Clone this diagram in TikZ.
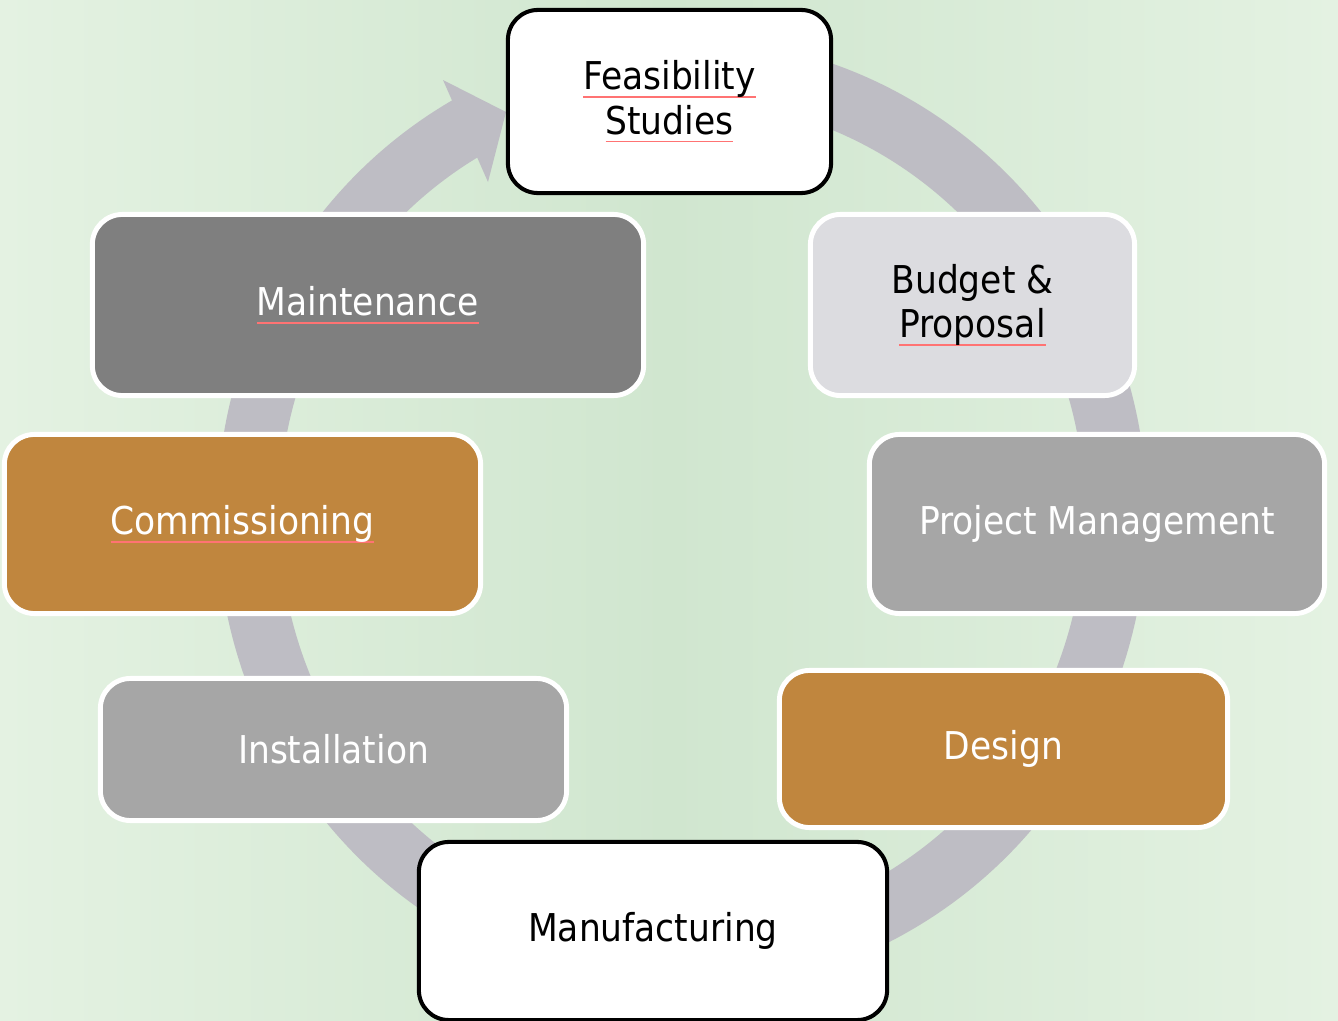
\documentclass[tikz,border=0pt]{standalone}
\usepackage{fontspec}
\setmainfont{DejaVu Sans Condensed}
\usetikzlibrary{positioning}

\definecolor{fondo}{RGB}{208,230,207}
\definecolor{fondoclaro}{RGB}{228,242,226}
\definecolor{anillo}{RGB}{190,189,196}
\definecolor{grisoscuro}{RGB}{127,127,127}
\definecolor{grismedio}{RGB}{166,166,166}
\definecolor{grisclaro}{RGB}{220,220,224}
\definecolor{ocre}{RGB}{192,134,62}

\newlength{\anchomarca}
\newcommand{\marcared}[1]{\settowidth{\anchomarca}{#1}\rlap{\textcolor{red!55}{\rule[-0.4ex]{\anchomarca}{0.5pt}}}#1}

\tikzset{
	caja/.style={rectangle, rounded corners=0.3cm, align=center, inner sep=0pt,
		font=\fontsize{10.9}{12.6}\selectfont},
	cajablanca/.style={caja, fill=white, draw=black, line width=1.15pt, text=black},
	cajacolor/.style={caja, draw=white, line width=1.4pt},
}

\begin{document}
\begin{tikzpicture}[x=0.01cm, y=0.01cm]

		\useasboundingbox (0,0) rectangle (1338,-1021);
		\fill[left color=fondoclaro, right color=fondoclaro, middle color=fondo] (0,0) rectangle (1338,-1021); %Fondo

		\draw[anillo, line width=0.62cm] (682,-515) ++(118:434 and 446) arc[start angle=118, end angle=450, x radius=434, y radius=446]; %Flecha
		\fill[anillo] (443,-80) -- (506,-112) -- (488,-182) -- cycle; %Punta

		\node[cajablanca, minimum width=3.23cm, minimum height=1.83cm] (feas) at (669.5,-101.5) {\marcared{Feasibility}\\ \marcared{Studies}};
		\node[cajacolor, fill=grisclaro, text=black, minimum width=3.24cm, minimum height=1.81cm] (budget) at (972.5,-305) {Budget \&\\ \marcared{Proposal}};
		\node[cajacolor, fill=grismedio, text=white, minimum width=4.55cm, minimum height=1.79cm] (pm) at (1097,-524) {Project Management};
		\node[cajacolor, fill=ocre, text=white, minimum width=4.48cm, minimum height=1.57cm] (design) at (1003.5,-749) {Design};
		\node[cajablanca, minimum width=4.68cm, minimum height=1.78cm] (manuf) at (653,-931) {Manufacturing};
		\node[cajacolor, fill=grismedio, text=white, minimum width=4.66cm, minimum height=1.42cm] (install) at (333.5,-749.5) {Installation};
		\node[cajacolor, fill=ocre, text=white, minimum width=4.76cm, minimum height=1.79cm] (commis) at (242.5,-524) {\marcared{Commissioning}};
		\node[cajacolor, fill=grisoscuro, text=white, minimum width=5.51cm, minimum height=1.81cm] (maint) at (368,-305) {\marcared{Maintenance}};

	\end{tikzpicture}
\end{document}
